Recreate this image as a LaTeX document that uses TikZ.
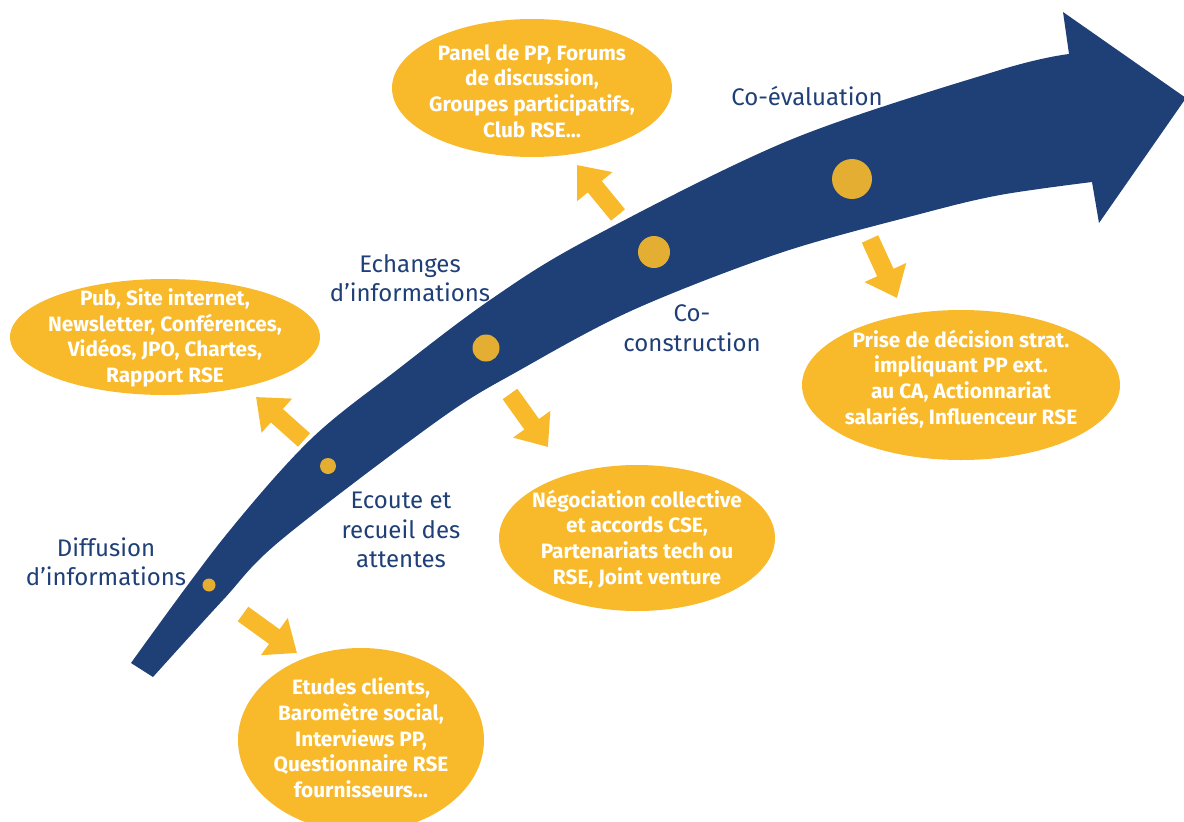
\documentclass[tikz,border=0pt]{standalone}
\usepackage{fontspec}
\setmainfont{Fira Sans}
\usetikzlibrary{shapes.geometric,arrows.meta}
\definecolor{navy}{HTML}{1F3F77}
\definecolor{gold}{HTML}{F8B92A}
\definecolor{dotc}{HTML}{E3AE32}
\begin{document}
\begin{tikzpicture}[x=1pt,y=-1pt,
  ell/.style={ellipse, fill=gold, inner sep=0pt},
  etext/.style={text=white, font=\bfseries\fontsize{20.8}{25.7}\selectfont, align=center, inner sep=0pt},
  lbl/.style={text=navy, font=\fontsize{24}{29.5}\selectfont, align=center, inner sep=0pt},
  yarrow/.style={gold, line width=18pt, -{Triangle[length=28pt,width=44pt]}},
  bead/.style={circle, fill=dotc, inner sep=0pt}]
\useasboundingbox (0,0) rectangle (1184,822);

% main curved arrow
\fill[navy] plot[smooth,tension=0.55] coordinates {(131,663) (222,540) (310,440) (397,370) (490,300) (587,240) (790,140) (1000,70) (1069,54)}
  -- (1063,12) -- (1186,98) -- (1099,223) -- (1092,182)
  -- plot[smooth,tension=0.55] coordinates {(1092,182) (1000,195) (920,214) (780,253) (633,310) (520,370) (440,419) (281,540) (223,600) (153,677)}
  -- cycle;

% beads
\node[bead, minimum size=13pt] (b1) at (209,585) {};
\node[bead, minimum size=16pt] (b2) at (328,466) {};
\node[bead, minimum size=27pt] (b3) at (486,348) {};
\node[bead, minimum size=32pt] (b4) at (654,252) {};
\node[bead, minimum size=40pt] (b5) at (852,179) {};

% ellipses
\node[ell, minimum width=280pt, minimum height=138pt] (e1) at (532,88) {};
\node[etext] (t1) at (532,91) {Panel de PP, Forums\\de discussion,\\Groupes participatifs,\\Club RSE…};
\node[ell, minimum width=318pt, minimum height=150pt] (e2) at (961,385) {};
\node[etext] (t2) at (961,379) {Prise de décision strat.\\impliquant PP ext.\\au CA, Actionnariat\\salariés, Influenceur RSE};
\node[ell, minimum width=246pt, minimum height=184pt] (e3) at (361,740) {};
\node[etext] (t3) at (361,738) {Etudes clients,\\Baromètre social,\\Interviews PP,\\Questionnaire RSE\\fournisseurs…};
\node[ell, minimum width=276pt, minimum height=146pt] (e4) at (637,538) {};
\node[etext] (t4) at (637,539) {Négociation collective\\et accords CSE,\\Partenariats tech ou\\RSE, Joint venture};
\node[ell, minimum width=310pt, minimum height=116pt] (e5) at (165,337) {};
\node[etext] (t5) at (165,338) {Pub, Site internet,\\Newsletter, Conférences,\\Vidéos, JPO, Chartes,\\Rapport RSE};

% small arrows
\coordinate (a1s) at (618,215); \coordinate (a1e) at (577,165);
\coordinate (a2s) at (304,440); \coordinate (a2e) at (256,397);
\coordinate (a3s) at (243,614); \coordinate (a3e) at (297,653);
\coordinate (a4s) at (510,394); \coordinate (a4e) at (548,447);
\coordinate (a5s) at (870,239); \coordinate (a5e) at (897,298);
\draw[yarrow] (a1s) -- (a1e);
\draw[yarrow] (a2s) -- (a2e);
\draw[yarrow] (a3s) -- (a3e);
\draw[yarrow] (a4s) -- (a4e);
\draw[yarrow] (a5s) -- (a5e);

% labels
\node[lbl] (l1) at (807,96) {Co-évaluation};
\node[lbl] (l2) at (410,278) {Echanges\\d’informations};
\node[lbl] (l3) at (692,328) {Co-\\construction};
\node[lbl] (l4) at (401,530) {Ecoute et\\recueil des\\attentes};
\node[lbl] (l5) at (106,562) {Diffusion\\d’informations};
\end{tikzpicture}
\end{document}
